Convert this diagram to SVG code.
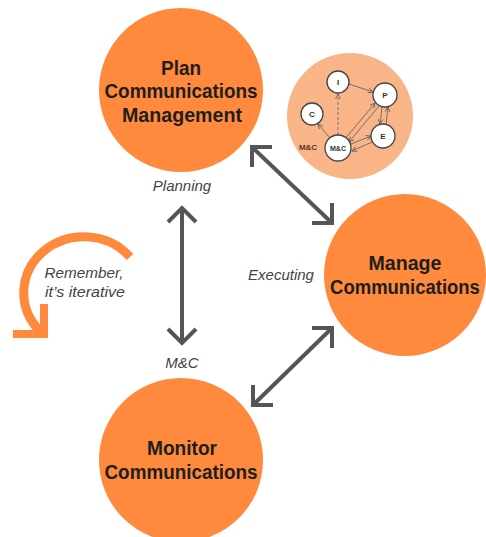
<svg xmlns="http://www.w3.org/2000/svg" width="486" height="537" viewBox="0 0 486 537">
<style>
.big{fill:#FF8A3D}
.t{font-family:"Liberation Sans",Arial,sans-serif;font-weight:bold;font-size:21px;fill:#1e1e1e;text-anchor:middle}
.lbl{font-family:"Liberation Sans",Arial,sans-serif;font-style:italic;font-size:15px;fill:#444;text-anchor:middle}
.arr{fill:none;stroke:#555;stroke-width:4;stroke-linecap:butt;stroke-linejoin:miter}
.sn{fill:#fff;stroke:#444;stroke-width:1.3}
.st{font-family:"Liberation Sans",Arial,sans-serif;font-weight:bold;font-size:8px;fill:#333;text-anchor:middle}
.se{fill:none;stroke:#666;stroke-width:0.9}
</style>
<defs>
<marker id="sa" viewBox="0 0 10 10" refX="9" refY="5" markerWidth="6" markerHeight="6" orient="auto" markerUnits="userSpaceOnUse">
<path d="M1,1 L9,5 L1,9" fill="none" stroke="#666" stroke-width="1.5"/>
</marker>
</defs>

<g id="plan">
<circle class="big" cx="181" cy="90" r="82"/>
<text class="t" x="181" y="75" textLength="40" lengthAdjust="spacingAndGlyphs">Plan</text>
<text class="t" x="181" y="98" textLength="153" lengthAdjust="spacingAndGlyphs">Communications</text>
<text class="t" x="182" y="122" textLength="120" lengthAdjust="spacingAndGlyphs">Management</text>
</g>

<g id="manage">
<circle class="big" cx="405" cy="275" r="81"/>
<text class="t" x="405" y="270" textLength="73" lengthAdjust="spacingAndGlyphs">Manage</text>
<text class="t" transform="translate(405,294) scale(0.88,1)" x="0" y="0">Communications</text>
</g>

<g id="monitor">
<circle class="big" cx="181" cy="460" r="82"/>
<text class="t" x="182" y="455" textLength="70" lengthAdjust="spacingAndGlyphs">Monitor</text>
<text class="t" x="181" y="479" textLength="153" lengthAdjust="spacingAndGlyphs">Communications</text>
</g>

<g id="labels">
<text class="lbl" x="182" y="191">Planning</text>
<text class="lbl" x="281" y="280">Executing</text>
<text class="lbl" x="182" y="368">M&amp;C</text>
</g>

<g id="iterative">
<path d="M130,257 A60,56 0 1 0 40,331" fill="none" stroke="#FF8A3D" stroke-width="9"/>
<polyline points="13,334 44,334 44,304" fill="none" stroke="#FF8A3D" stroke-width="8" stroke-linejoin="miter"/>
<text class="lbl" x="84" y="278" textLength="79" lengthAdjust="spacingAndGlyphs">Remember,</text>
<text class="lbl" x="85" y="297" textLength="80" lengthAdjust="spacingAndGlyphs">it’s iterative</text>
</g>

<g id="connectors">
<line class="arr" x1="182" y1="208" x2="182" y2="343"/>
<polyline class="arr" points="168,222 182,208 196,222"/>
<polyline class="arr" points="168,329 182,343 196,329"/>
<line class="arr" x1="252" y1="147" x2="332" y2="223"/>
<polyline class="arr" points="252,167 252,147 272,147"/>
<polyline class="arr" points="312,223 332,223 332,203"/>
<line class="arr" x1="253" y1="405" x2="332" y2="328"/>
<polyline class="arr" points="253,385 253,405 273,405"/>
<polyline class="arr" points="312,328 332,328 332,348"/>
</g>

<g id="mini">
<circle cx="350" cy="116" r="63" fill="#F9B487"/>
<text x="308" y="150" style="font-family:'Liberation Sans',Arial,sans-serif;font-weight:bold;font-size:8px;fill:#5b3422;text-anchor:middle">M&amp;C</text>
<g id="mini-edges">
<line class="se" x1="349" y1="84" x2="373" y2="92" marker-end="url(#sa)"/>
<line class="se" x1="338" y1="135" x2="338" y2="94" stroke-dasharray="3,2" marker-end="url(#sa)"/>
<line class="se" x1="330" y1="138" x2="318" y2="124" marker-end="url(#sa)"/>
<line class="se" x1="345" y1="139" x2="375" y2="103" marker-end="url(#sa)"/>
<line class="se" x1="379" y1="106" x2="349" y2="142" marker-end="url(#sa)"/>
<line class="se" x1="351" y1="144" x2="371" y2="136" marker-end="url(#sa)"/>
<line class="se" x1="372" y1="142" x2="352" y2="151" marker-end="url(#sa)"/>
<line class="se" x1="382" y1="107" x2="380" y2="124" marker-end="url(#sa)"/>
<line class="se" x1="386" y1="125" x2="388" y2="107" marker-end="url(#sa)"/>
</g>
<g id="node-I"><circle class="sn" cx="338" cy="82" r="11"/><text class="st" x="338" y="85">I</text></g>
<g id="node-P"><circle class="sn" cx="385" cy="95" r="12"/><text class="st" x="385" y="98">P</text></g>
<g id="node-C"><circle class="sn" cx="312" cy="114" r="11"/><text class="st" x="312" y="117">C</text></g>
<g id="node-E"><circle class="sn" cx="383" cy="136" r="12"/><text class="st" x="383" y="139">E</text></g>
<g id="node-MC"><circle class="sn" cx="338" cy="148" r="13"/><text class="st" x="338" y="151" style="font-size:7px">M&amp;C</text></g>
</g>
</svg>
